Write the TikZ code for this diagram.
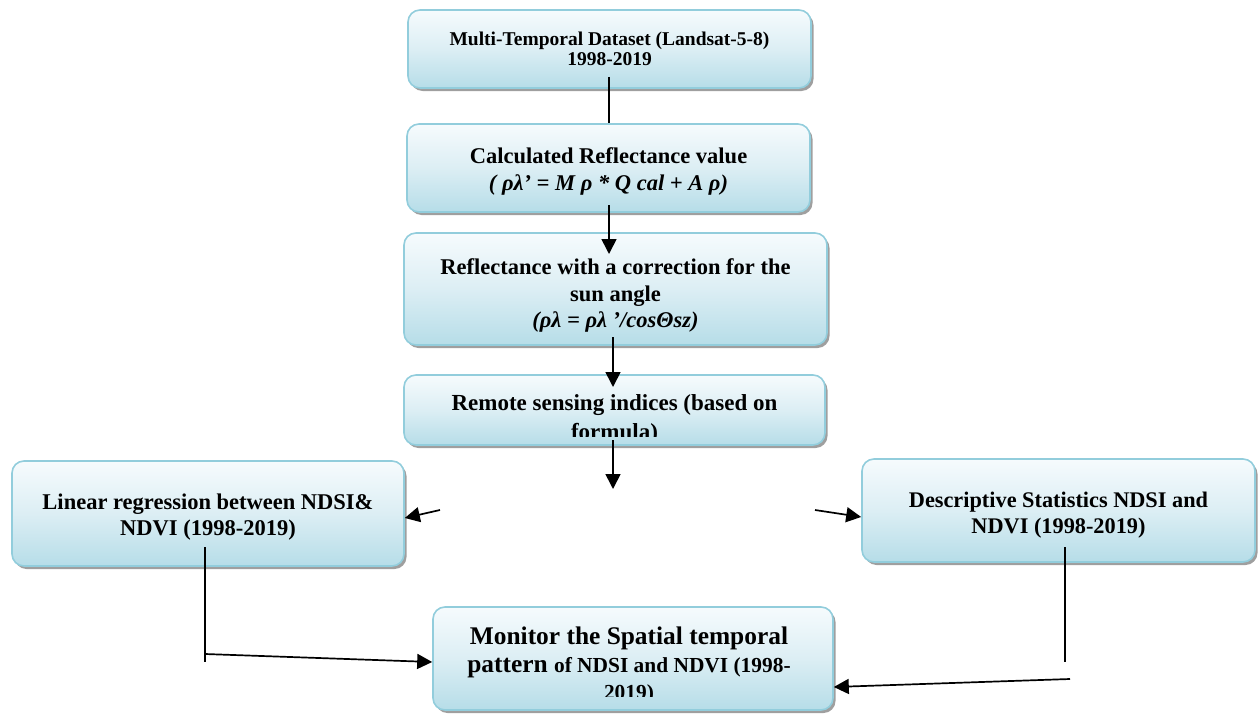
\documentclass[tikz,border=0pt]{standalone}
\usepackage{fontspec}
\setmainfont{Liberation Serif}
\usetikzlibrary{shadows,arrows.meta}
\definecolor{boxline}{HTML}{92CDDC}
\definecolor{boxbot}{HTML}{B6DDE8}
\definecolor{boxtop}{HTML}{F6FBFD}
\definecolor{boxmid}{HTML}{DCEEF4}
\tikzset{
  flowbox/.style={draw=boxline, line width=1.6pt, rounded corners=12pt,
    top color=boxtop, bottom color=boxbot, middle color=boxmid,
    drop shadow={shadow xshift=2.5pt, shadow yshift=-3pt, fill=gray!75, opacity=1},
    inner sep=0pt},
  txt/.style={align=center, inner sep=0pt, font=\bfseries},
  conn/.style={line width=1.7pt},
  arr/.style={conn, -{Triangle[length=15pt,width=15pt]}},
}
\begin{document}
\begin{tikzpicture}[x=1pt,y=-1pt]
\useasboundingbox (0,0) rectangle (1258,717);
% boxes
\node[flowbox, minimum width=403pt, minimum height=78pt] (b1) at (609.5,49) {};
\node[txt, font=\bfseries\fontsize{19.5}{20.5}\selectfont] (t1) at (609.5,49)
  {Multi-Temporal Dataset (Landsat-5-8)\\1998-2019};
\node[flowbox, minimum width=403pt, minimum height=88pt] (b2) at (608.5,168) {};
\node[txt, font=\bfseries\fontsize{22.5}{27}\selectfont] (t2) at (608.5,171)
  {Calculated Reflectance value\\\itshape ( ρλ' = M ρ * Q cal + A ρ)};
\node[flowbox, minimum width=423pt, minimum height=112pt] (b3) at (615.5,289) {};
\node[txt, font=\bfseries\fontsize{22.5}{26.5}\selectfont] (t3) at (615.5,295.5)
  {Reflectance with a correction for the\\sun angle\\\itshape (ρλ = ρλ '/cosΘsz)};
\node[flowbox, minimum width=421pt, minimum height=70pt] (b4) at (614.5,410) {};
\begin{scope}
  \clip (404,376) rectangle (825,436.5);
  \node[txt, font=\bfseries\fontsize{23}{29}\selectfont, anchor=north] (t4) at (614.5,394)
    {Remote sensing indices (based on\\formula)};
\end{scope}
\node[flowbox, minimum width=392pt, minimum height=105pt] (b5) at (208,513.5) {};
\node[txt, font=\bfseries\fontsize{22.5}{26}\selectfont] (t5) at (208,517.5)
  {Linear regression between NDSI\&\\NDVI (1998-2019)};
\node[flowbox, minimum width=393pt, minimum height=103pt] (b6) at (1058.5,510.5) {};
\node[txt, font=\bfseries\fontsize{22.3}{26}\selectfont] (t6) at (1058.5,515.5)
  {Descriptive Statistics NDSI and\\NDVI (1998-2019)};
\node[flowbox, minimum width=400pt, minimum height=103pt] (b7) at (633,658.5) {};
\begin{scope}
  \clip (433,608) rectangle (833,696);
  \node[txt, font=\bfseries\fontsize{25.4}{27.5}\selectfont, anchor=north] (t7) at (629,627)
    {Monitor the Spatial temporal\\pattern {\fontsize{21.4}{27.5}\selectfont of NDSI and NDVI (1998-}\\{\fontsize{21.4}{27.5}\selectfont 2019)}};
\end{scope}
% connector end points
\coordinate (p1) at (609,77);
\coordinate (p2a) at (609,205);
\coordinate (p2b) at (609,254);
\coordinate (p3a) at (613,337);
\coordinate (p3b) at (613,387);
\coordinate (p4a) at (613,440);
\coordinate (p4b) at (613,489);
\coordinate (pl) at (440,510);
\coordinate (pr) at (815,510);
\coordinate (l1) at (205,547);
\coordinate (l2) at (205,662);
\coordinate (l3) at (205,654);
\coordinate (r1) at (1065,547);
\coordinate (r2) at (1065,662);
\coordinate (r3) at (1070,679);
% connectors
\draw[conn] (p1) -- (p1 |- b2.north);
\draw[arr] (p2a) -- (p2b);
\draw[arr] (p3a) -- (p3b);
\draw[arr] (p4a) -- (p4b);
\draw[arr] (pl) -- (b5.east |- 0,518);
\draw[arr] (pr) -- (b6.west |- 0,517);
\draw[conn] (l1) -- (l2);
\draw[arr] (l3) -- (b7.west |- 0,662);
\draw[conn] (r1) -- (r2);
\draw[arr] (r3) -- (b7.east |- 0,687);
\end{tikzpicture}
\end{document}
